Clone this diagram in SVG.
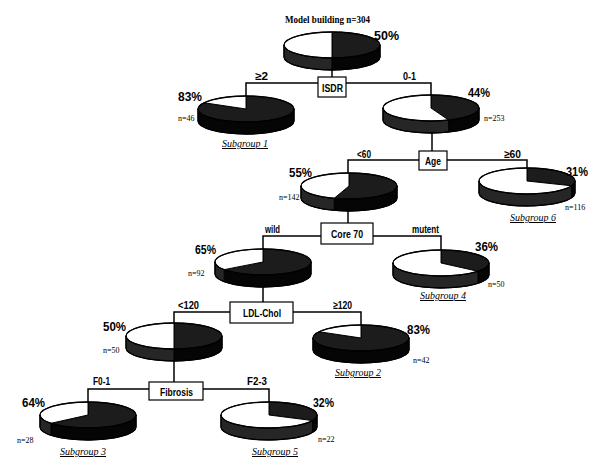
<svg xmlns="http://www.w3.org/2000/svg" width="597" height="462" viewBox="0 0 597 462">
  <style>
    .bg { fill: #ffffff; }
    .dtop { fill: #1c1c1c; stroke: #000; stroke-width: 1; }
    .wtop { fill: #ffffff; stroke: #000; stroke-width: 1; }
    .dside { fill: #050505; stroke: #000; stroke-width: 1; }
    .wside { fill: #262626; stroke: #000; stroke-width: 1; }
    .rim { fill: none; stroke: #000; stroke-width: 1.3; }
    .box { fill: #ffffff; stroke: #000; stroke-width: 1.2; }
    .conn { fill: none; stroke: #000; stroke-width: 1.5; }
    .lbl { font-family: "Liberation Sans", Arial, sans-serif; font-size: 11px; font-weight: bold; fill: #000; }
    .pct { font-family: "Liberation Sans", Arial, sans-serif; font-size: 13px; font-weight: bold; fill: #000; }
    .n { font-family: "Liberation Serif", "Times New Roman", serif; font-size: 8px; fill: #000; }
    .sub { font-family: "Liberation Serif", "Times New Roman", serif; font-size: 10px; font-style: italic; text-decoration: underline; fill: #000; }
    .title { font-family: "Liberation Serif", "Times New Roman", serif; font-size: 10px; font-weight: bold; fill: #000; }
  </style>
  <defs>
    <!-- half dark / half light pie -->
    <g id="pie50">
      <path class="dside" d="M48,0 A48 13 0 0 1 0,13 L0,25 A48 13 0 0 0 48,12 Z"/>
      <path class="wside" d="M0,13 A48 13 0 0 1 -48,0 L-48,12 A48 13 0 0 0 0,25 Z"/>
      <path class="dtop" d="M0,0 L0,-13 A48 13 0 0 1 0,13 Z"/>
      <path class="wtop" d="M0,0 L0,13 A48 13 0 0 1 0,-13 Z"/>
      <ellipse class="rim" cx="0" cy="0" rx="48" ry="13"/>
      <path class="rim" d="M-48,0 L-48,12 A48 13 0 0 0 48,12 L48,0"/>
    </g>
    <!-- 83% dark pie -->
    <g id="pie83">
      <path class="dside" d="M48,0 A48 13 0 0 1 -48,0 L-48,12 A48 13 0 0 0 48,12 Z"/>
      <path class="dtop" d="M0,0 L0,-13 A48 13 0 1 1 -42.06,-6.26 Z"/>
      <path class="wtop" d="M0,0 L-42.06,-6.26 A48 13 0 0 1 0,-13 Z"/>
      <ellipse class="rim" cx="0" cy="0" rx="48" ry="13"/>
      <path class="rim" d="M-48,0 L-48,12 A48 13 0 0 0 48,12 L48,0"/>
    </g>
  </defs>

  <rect class="bg" x="0" y="0" width="597" height="462"/>

  <!-- connectors -->
  <g id="connectors">
    <path class="conn" d="M332,70 V77"/>
    <path class="conn" d="M246,96 V83 H431 V95"/>
    <path class="conn" d="M432,133 V151"/>
    <path class="conn" d="M348,173 V160 H527 V168"/>
    <path class="conn" d="M348,211 V223"/>
    <path class="conn" d="M263,249 V236 H441 V250"/>
    <path class="conn" d="M263,287 V302"/>
    <path class="conn" d="M174,323 V312 H361 V325"/>
    <path class="conn" d="M174,361 V382"/>
    <path class="conn" d="M88,402 V389 H269 V402"/>
  </g>

  <!-- root -->
  <g id="root">
    <text class="title" x="285" y="23" textLength="85" lengthAdjust="spacingAndGlyphs">Model building  n=304</text>
    <use href="#pie50" transform="translate(332,45)"/>
    <text class="pct" x="374" y="40" textLength="25" lengthAdjust="spacingAndGlyphs">50%</text>
  </g>

  <g id="isdr">
    <rect class="box" x="318" y="77" width="28" height="20"/>
    <text class="lbl" x="322" y="91.5" textLength="21" lengthAdjust="spacingAndGlyphs">ISDR</text>
    <text class="lbl" x="255" y="80" textLength="13" lengthAdjust="spacingAndGlyphs">≥2</text>
    <text class="lbl" x="403" y="80" textLength="13" lengthAdjust="spacingAndGlyphs">0-1</text>
  </g>

  <g id="subgroup1">
    <use href="#pie83" transform="translate(246,109)"/>
    <text class="pct" x="178" y="101" textLength="24" lengthAdjust="spacingAndGlyphs">83%</text>
    <text class="n" x="178" y="121">n=46</text>
    <text class="sub" x="222" y="147">Subgroup 1</text>
  </g>

  <g id="pie44">
    <g transform="translate(431,108)">
      <path class="dside" d="M48,0 A48 13 0 0 1 17.67,12.09 L17.67,24.09 A48 13 0 0 0 48,12 Z"/>
      <path class="wside" d="M17.67,12.09 A48 13 0 0 1 -48,0 L-48,12 A48 13 0 0 0 17.67,24.09 Z"/>
      <path class="dtop" d="M0,0 L0,-13 A48 13 0 0 1 17.67,12.09 Z"/>
      <path class="wtop" d="M0,0 L17.67,12.09 A48 13 0 1 1 0,-13 Z"/>
      <ellipse class="rim" cx="0" cy="0" rx="48" ry="13"/>
      <path class="rim" d="M-48,0 L-48,12 A48 13 0 0 0 48,12 L48,0"/>
    </g>
    <text class="pct" x="468" y="97" textLength="22" lengthAdjust="spacingAndGlyphs">44%</text>
    <text class="n" x="484" y="121">n=253</text>
  </g>

  <g id="age">
    <rect class="box" x="419" y="151" width="28" height="19"/>
    <text class="lbl" x="425" y="164.5" textLength="16" lengthAdjust="spacingAndGlyphs">Age</text>
    <text class="lbl" x="357" y="158" textLength="14" lengthAdjust="spacingAndGlyphs">&lt;60</text>
    <text class="lbl" x="504" y="158" textLength="17" lengthAdjust="spacingAndGlyphs">≥60</text>
  </g>

  <g id="pie55">
    <g transform="translate(349,186)">
      <path class="dside" d="M48,0 A48 13 0 0 1 -14.83,12.36 L-14.83,24.36 A48 13 0 0 0 48,12 Z"/>
      <path class="wside" d="M-14.83,12.36 A48 13 0 0 1 -48,0 L-48,12 A48 13 0 0 0 -14.83,24.36 Z"/>
      <path class="dtop" d="M0,0 L0,-13 A48 13 0 1 1 -14.83,12.36 Z"/>
      <path class="wtop" d="M0,0 L-14.83,12.36 A48 13 0 0 1 0,-13 Z"/>
      <ellipse class="rim" cx="0" cy="0" rx="48" ry="13"/>
      <path class="rim" d="M-48,0 L-48,12 A48 13 0 0 0 48,12 L48,0"/>
    </g>
    <text class="pct" x="289" y="177" textLength="23" lengthAdjust="spacingAndGlyphs">55%</text>
    <text class="n" x="279" y="200">n=142</text>
  </g>

  <g id="subgroup6">
    <g transform="translate(527,181)">
      <path class="dside" d="M48,0 A48 13 0 0 1 44.63,4.79 L44.63,16.79 A48 13 0 0 0 48,12 Z"/>
      <path class="wside" d="M44.63,4.79 A48 13 0 0 1 -48,0 L-48,12 A48 13 0 0 0 44.63,16.79 Z"/>
      <path class="dtop" d="M0,0 L0,-13 A48 13 0 0 1 44.63,4.79 Z"/>
      <path class="wtop" d="M0,0 L44.63,4.79 A48 13 0 1 1 0,-13 Z"/>
      <ellipse class="rim" cx="0" cy="0" rx="48" ry="13"/>
      <path class="rim" d="M-48,0 L-48,12 A48 13 0 0 0 48,12 L48,0"/>
    </g>
    <text class="pct" x="566" y="176" textLength="22" lengthAdjust="spacingAndGlyphs">31%</text>
    <text class="n" x="565" y="210">n=116</text>
    <text class="sub" x="510" y="221">Subgroup 6</text>
  </g>

  <g id="core70">
    <rect class="box" x="321" y="223" width="52" height="21"/>
    <text class="lbl" x="331" y="237.5" textLength="32" lengthAdjust="spacingAndGlyphs">Core 70</text>
    <text class="lbl" x="265" y="233" textLength="15" lengthAdjust="spacingAndGlyphs">wild</text>
    <text class="lbl" x="412" y="233" textLength="27" lengthAdjust="spacingAndGlyphs">mutent</text>
  </g>

  <g id="pie65">
    <g transform="translate(263,262)">
      <path class="dside" d="M48,0 A48 13 0 0 1 -38.83,7.64 L-38.83,19.64 A48 13 0 0 0 48,12 Z"/>
      <path class="wside" d="M-38.83,7.64 A48 13 0 0 1 -48,0 L-48,12 A48 13 0 0 0 -38.83,19.64 Z"/>
      <path class="dtop" d="M0,0 L0,-13 A48 13 0 1 1 -38.83,7.64 Z"/>
      <path class="wtop" d="M0,0 L-38.83,7.64 A48 13 0 0 1 0,-13 Z"/>
      <ellipse class="rim" cx="0" cy="0" rx="48" ry="13"/>
      <path class="rim" d="M-48,0 L-48,12 A48 13 0 0 0 48,12 L48,0"/>
    </g>
    <text class="pct" x="195" y="254" textLength="21" lengthAdjust="spacingAndGlyphs">65%</text>
    <text class="n" x="188" y="276">n=92</text>
  </g>

  <g id="subgroup4">
    <g transform="translate(441,263)">
      <path class="dside" d="M48,0 A48 13 0 0 1 36.98,8.29 L36.98,20.29 A48 13 0 0 0 48,12 Z"/>
      <path class="wside" d="M36.98,8.29 A48 13 0 0 1 -48,0 L-48,12 A48 13 0 0 0 36.98,20.29 Z"/>
      <path class="dtop" d="M0,0 L0,-13 A48 13 0 0 1 36.98,8.29 Z"/>
      <path class="wtop" d="M0,0 L36.98,8.29 A48 13 0 1 1 0,-13 Z"/>
      <ellipse class="rim" cx="0" cy="0" rx="48" ry="13"/>
      <path class="rim" d="M-48,0 L-48,12 A48 13 0 0 0 48,12 L48,0"/>
    </g>
    <text class="pct" x="475" y="251" textLength="23" lengthAdjust="spacingAndGlyphs">36%</text>
    <text class="n" x="488" y="287">n=50</text>
    <text class="sub" x="420" y="299">Subgroup 4</text>
  </g>

  <g id="ldl">
    <rect class="box" x="230" y="302" width="63" height="21"/>
    <text class="lbl" x="243" y="316.5" textLength="38" lengthAdjust="spacingAndGlyphs">LDL-Chol</text>
    <text class="lbl" x="178" y="309" textLength="21" lengthAdjust="spacingAndGlyphs">&lt;120</text>
    <text class="lbl" x="333" y="309" textLength="19" lengthAdjust="spacingAndGlyphs">≥120</text>
  </g>

  <g id="pie50b">
    <use href="#pie50" transform="translate(174,336)"/>
    <text class="pct" x="103" y="331" textLength="23" lengthAdjust="spacingAndGlyphs">50%</text>
    <text class="n" x="103" y="353">n=50</text>
  </g>

  <g id="subgroup2">
    <use href="#pie83" transform="translate(361,338)"/>
    <text class="pct" x="407" y="334" textLength="23" lengthAdjust="spacingAndGlyphs">83%</text>
    <text class="n" x="413" y="363">n=42</text>
    <text class="sub" x="335" y="376">Subgroup 2</text>
  </g>

  <g id="fibrosis">
    <rect class="box" x="149" y="382" width="54" height="18"/>
    <text class="lbl" x="160" y="395.5" textLength="33" lengthAdjust="spacingAndGlyphs">Fibrosis</text>
    <text class="lbl" x="93" y="385" textLength="17" lengthAdjust="spacingAndGlyphs">F0-1</text>
    <text class="lbl" x="247" y="385" textLength="20" lengthAdjust="spacingAndGlyphs">F2-3</text>
  </g>

  <g id="subgroup3">
    <g transform="translate(88,415)">
      <path class="dside" d="M48,0 A48 13 0 0 1 -36.98,8.29 L-36.98,20.29 A48 13 0 0 0 48,12 Z"/>
      <path class="wside" d="M-36.98,8.29 A48 13 0 0 1 -48,0 L-48,12 A48 13 0 0 0 -36.98,20.29 Z"/>
      <path class="dtop" d="M0,0 L0,-13 A48 13 0 1 1 -36.98,8.29 Z"/>
      <path class="wtop" d="M0,0 L-36.98,8.29 A48 13 0 0 1 0,-13 Z"/>
      <ellipse class="rim" cx="0" cy="0" rx="48" ry="13"/>
      <path class="rim" d="M-48,0 L-48,12 A48 13 0 0 0 48,12 L48,0"/>
    </g>
    <text class="pct" x="22" y="407" textLength="23" lengthAdjust="spacingAndGlyphs">64%</text>
    <text class="n" x="17" y="443">n=28</text>
    <text class="sub" x="60" y="455">Subgroup 3</text>
  </g>

  <g id="subgroup5">
    <g transform="translate(269,415)">
      <path class="dside" d="M48,0 A48 13 0 0 1 43.43,5.54 L43.43,17.54 A48 13 0 0 0 48,12 Z"/>
      <path class="wside" d="M43.43,5.54 A48 13 0 0 1 -48,0 L-48,12 A48 13 0 0 0 43.43,17.54 Z"/>
      <path class="dtop" d="M0,0 L0,-13 A48 13 0 0 1 43.43,5.54 Z"/>
      <path class="wtop" d="M0,0 L43.43,5.54 A48 13 0 1 1 0,-13 Z"/>
      <ellipse class="rim" cx="0" cy="0" rx="48" ry="13"/>
      <path class="rim" d="M-48,0 L-48,12 A48 13 0 0 0 48,12 L48,0"/>
    </g>
    <text class="pct" x="313" y="407" textLength="21" lengthAdjust="spacingAndGlyphs">32%</text>
    <text class="n" x="318" y="442">n=22</text>
    <text class="sub" x="252" y="455">Subgroup 5</text>
  </g>
</svg>
